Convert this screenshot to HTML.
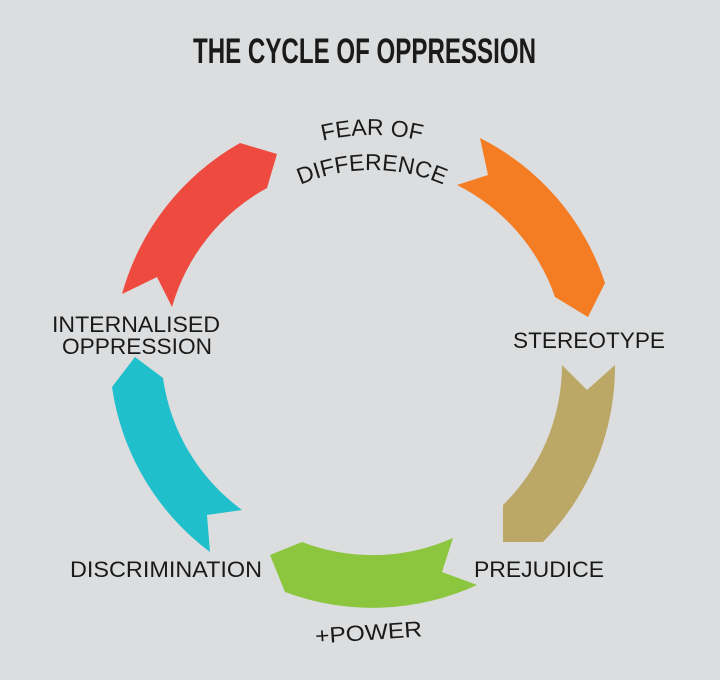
<!DOCTYPE html>
<html><head><meta charset="utf-8"><style>
html,body{margin:0;padding:0;background:#dcddde;}
svg{display:block}
text{font-family:"Liberation Sans",sans-serif;fill:#1a1a1a}
</style></head><body>
<svg width="720" height="680" viewBox="0 0 720 680" xmlns="http://www.w3.org/2000/svg">
<rect width="720" height="680" fill="#dcddde"/>
<text x="193" y="63" font-weight="bold" font-size="35" textLength="343" lengthAdjust="spacingAndGlyphs" style="font-family:'Liberation Sans Narrow','Liberation Sans',sans-serif">THE CYCLE OF OPPRESSION</text>

<path d="M240,143 L277,154 L267,188 A197,197 0 0 0 172,307 L157,277 L122,294 A250,250 0 0 1 240,143 Z" fill="#ef4a3f"/>
<path d="M480,138 L488,175 L457,185 A197,197 0 0 1 555,297 L588,317 L605,283 A250,250 0 0 0 480,138 Z" fill="#f47c22"/>
<path d="M615,365 L587,390 L562,365 A197,197 0 0 1 503,505 L503,542 L543,542 A250,250 0 0 0 615,365 Z" fill="#bba867"/>
<path d="M453,538 L442,572 L477,585 A250,250 0 0 1 285,592 L270,555 L302,542 A197,197 0 0 0 453,538 Z" fill="#8cc63f"/>
<path d="M242,510 L207,515 L210,552 A250,250 0 0 1 112,387 L135,357 L163,378 A197,197 0 0 0 242,510 Z" fill="#20bfcc"/>

<defs>
<path id="arc1" d="M162,345 A210,210 0 0 1 582,345"/>
<path id="arc2" d="M192,350 A180,180 0 0 1 552,350"/>
</defs>
<text font-size="23"><textPath href="#arc1" startOffset="50%" text-anchor="middle">FEAR OF</textPath></text>
<text font-size="23"><textPath href="#arc2" startOffset="50%" text-anchor="middle">DIFFERENCE</textPath></text>

<text x="52" y="332" font-size="22" textLength="168" lengthAdjust="spacingAndGlyphs">INTERNALISED</text>
<text x="62" y="354" font-size="22" textLength="150" lengthAdjust="spacingAndGlyphs">OPPRESSION</text>
<text x="513" y="348" font-size="22" textLength="152" lengthAdjust="spacingAndGlyphs">STEREOTYPE</text>
<text x="474" y="577" font-size="22" textLength="130" lengthAdjust="spacingAndGlyphs">PREJUDICE</text>
<text x="70" y="577" font-size="22" textLength="192" lengthAdjust="spacingAndGlyphs">DISCRIMINATION</text>
<text x="315" y="640" font-size="22" textLength="107" lengthAdjust="spacingAndGlyphs" transform="rotate(-4 368 632)">+POWER</text>
</svg>
</body></html>
